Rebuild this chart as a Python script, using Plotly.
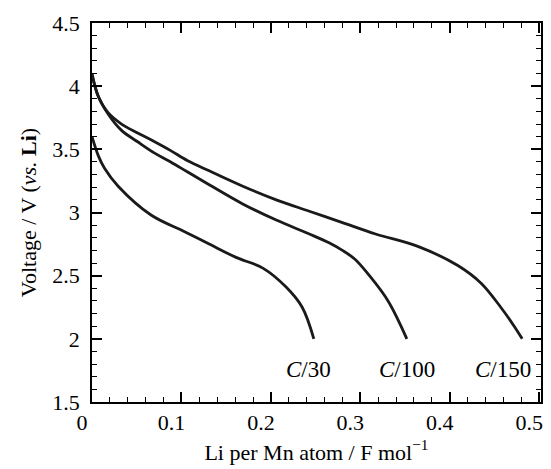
import plotly.graph_objects as go

# C/150 (top curve)
c150_x = [0.0, 0.007, 0.018, 0.033, 0.051, 0.07, 0.088, 0.107, 0.131, 0.168, 0.206,
          0.243, 0.28, 0.317, 0.365, 0.409, 0.435, 0.457, 0.472, 0.481]
c150_v = [4.09, 3.92, 3.79, 3.70, 3.63, 3.56, 3.49, 3.41, 3.33, 3.21, 3.10,
          3.01, 2.92, 2.83, 2.73, 2.58, 2.44, 2.25, 2.10, 2.0]

# C/100 (middle curve)
c100_x = [0.0, 0.007, 0.018, 0.033, 0.051, 0.07, 0.088, 0.107, 0.131, 0.168, 0.206,
          0.243, 0.265, 0.28, 0.294, 0.309, 0.331, 0.352]
c100_v = [4.10, 3.92, 3.78, 3.65, 3.56, 3.47, 3.40, 3.32, 3.22, 3.07, 2.94,
          2.83, 2.76, 2.70, 2.63, 2.51, 2.30, 2.0]

# C/30 (bottom curve)
c30_x = [0.0, 0.007, 0.014, 0.029, 0.066, 0.103, 0.131, 0.161, 0.191, 0.217, 0.235, 0.248]
c30_v = [3.60, 3.45, 3.35, 3.21, 2.98, 2.85, 2.75, 2.645, 2.56, 2.41, 2.25, 2.0]

labels = ["<i>C</i>/30", "<i>C</i>/100", "<i>C</i>/150"]
label_x = [0.242, 0.352, 0.46]
label_y = [1.76, 1.76, 1.76]

x_tickvals = [0, 0.1, 0.2, 0.3, 0.4, 0.5]
x_ticktext = ["0", "0.1", "0.2", "0.3", "0.4", "0.5"]
y_tickvals = [1.5, 2, 2.5, 3, 3.5, 4, 4.5]
y_ticktext = ["1.5", "2", "2.5", "3", "3.5", "4", "4.5"]
x_minor_step = 0.02
y_minor_step = 0.1

X_RANGE = [0, 0.502]
Y_RANGE = [1.5, 4.5]
FONT = "Liberation Serif"

fig = go.Figure()
for xs, vs in [(c150_x, c150_v), (c100_x, c100_v), (c30_x, c30_v)]:
    fig.add_trace(go.Scatter(x=xs, y=vs, mode="lines",
                             line=dict(color="#1a1a1a", width=2.8, shape="spline", smoothing=1.0),
                             showlegend=False))

for t, lx, ly in zip(labels, label_x, label_y):
    fig.add_annotation(x=lx, y=ly, text=t, showarrow=False,
                       font=dict(family=FONT, size=23, color="black"))

fig.update_layout(
    xaxis=dict(range=X_RANGE, tickmode="array", tickvals=x_tickvals, ticktext=x_ticktext,
               ticks="inside", ticklen=10, tickwidth=1.5, tickcolor="#000000",
               showline=True, linecolor="black", linewidth=1.5, mirror="allticks",
               showgrid=False, zeroline=False, ticklabelshift=-10, layer="above traces",
               tickfont=dict(family=FONT, size=22, color="black"),
               minor=dict(ticks="inside", ticklen=5, tickwidth=1.2, tickcolor="#000000",
                          dtick=x_minor_step, tick0=0, showgrid=False),
               title=dict(text="Li per Mn atom / F mol<sup>−1</sup>",
                          font=dict(family=FONT, size=22, color="black"), standoff=10)),
    yaxis=dict(range=Y_RANGE, tickmode="array", tickvals=y_tickvals, ticktext=y_ticktext,
               ticks="inside", ticklen=10, tickwidth=1.5, tickcolor="#000000",
               showline=True, linecolor="black", linewidth=1.5, mirror="allticks",
               showgrid=False, zeroline=False, ticklabelstandoff=6, layer="above traces",
               tickfont=dict(family=FONT, size=22, color="black"),
               minor=dict(ticks="inside", ticklen=5, tickwidth=1.2, tickcolor="#000000",
                          dtick=y_minor_step, tick0=1.5, showgrid=False),
               title=dict(text="Voltage / V (<i>vs.</i> <b>Li</b>)",
                          font=dict(family=FONT, size=22, color="black"), standoff=10)),
    width=551, height=469, plot_bgcolor="white", paper_bgcolor="white",
    margin=dict(l=92, r=8, t=23, b=63),
)

fig.write_html("out.html")
